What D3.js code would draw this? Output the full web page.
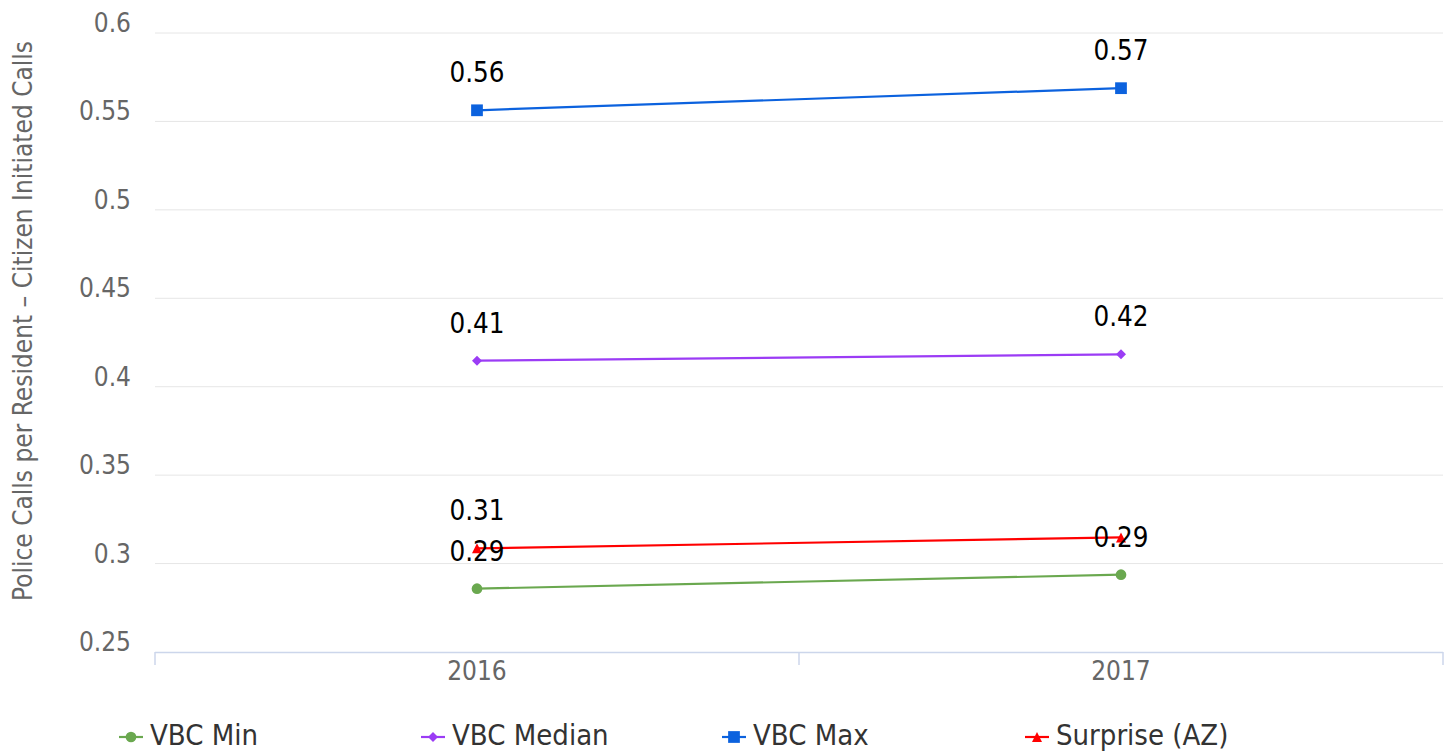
<!DOCTYPE html>
<html>
<head>
<meta charset="utf-8">
<script src="https://cdn.jsdelivr.net/npm/d3@7"></script>
<style>
  html, body { margin: 0; padding: 0; background: #fff; }
  svg { display: block; }
  text { font-family: "DejaVu Sans Condensed", "DejaVu Sans", Verdana, sans-serif; }
</style>
</head>
<body>
<svg id="chart" width="1454" height="752"></svg>
<script>
// Years on the x axis
const years = ["2016", "2017"];

// Series values (calls per resident)
const vbcMin = [0.2858, 0.2937];
const vbcMedian = [0.4147, 0.4183];
const vbcMax = [0.5563, 0.5688];
const surprise = [0.3086, 0.3148];

// Which data labels are shown (overlapping ones are hidden)
const showMin = [true, true];
const showMedian = [true, true];
const showMax = [true, true];
const showSurprise = [true, false];

const yTicks = [0.25, 0.3, 0.35, 0.4, 0.45, 0.5, 0.55, 0.6];
const yTitle = "Police Calls per Resident – Citizen Initiated Calls";

const series = [
  { name: "VBC Min", values: vbcMin, show: showMin, color: "#6aa84f", symbol: "circle" },
  { name: "VBC Median", values: vbcMedian, show: showMedian, color: "#9b3cf5", symbol: "diamond" },
  { name: "VBC Max", values: vbcMax, show: showMax, color: "#0c62de", symbol: "square" },
  { name: "Surprise (AZ)", values: surprise, show: showSurprise, color: "#ff0000", symbol: "triangle" }
];

const svg = d3.select("#chart");
const plotLeft = 155, plotRight = 1443, plotTop = 33, plotBottom = 652;

const x = d3.scaleBand().domain(years).range([plotLeft, plotRight]);
const y = d3.scaleLinear().domain([0.25, 0.6]).range([plotBottom, plotTop]);

// Horizontal grid lines
svg.append("g")
  .selectAll("line")
  .data(yTicks.filter(t => t > 0.25))
  .join("line")
  .attr("x1", plotLeft).attr("x2", plotRight)
  .attr("y1", d => y(d)).attr("y2", d => y(d))
  .attr("stroke", "#e6e6e6").attr("stroke-width", 1);

// Y axis labels, sitting just above their grid lines
const yAxis = svg.append("g")
  .attr("transform", `translate(${plotLeft - 24},0)`)
  .call(d3.axisLeft(y).tickValues(yTicks).tickSize(0).tickPadding(0).tickFormat(d3.format("")));
yAxis.select(".domain").remove();
yAxis.selectAll("text")
  .attr("fill", "#666").attr("font-size", 26)
  .attr("font-family", "\"DejaVu Sans Condensed\", \"DejaVu Sans\", sans-serif")
  .attr("dy", "-0.06em");

// Y axis title
svg.append("text")
  .attr("transform", "translate(32,321) rotate(-90)")
  .attr("text-anchor", "middle")
  .attr("fill", "#666").attr("font-size", 26)
  .text(yTitle);

// X axis with ticks at category boundaries
const xAxisG = svg.append("g").attr("transform", `translate(0,${plotBottom})`);
xAxisG.append("line")
  .attr("x1", plotLeft).attr("x2", plotRight).attr("y1", 0.5).attr("y2", 0.5)
  .attr("stroke", "#ccd6eb").attr("stroke-width", 1.5);
const boundaries = [plotLeft].concat(years.map(d => x(d) + x.bandwidth()));
xAxisG.selectAll("line.tick")
  .data(boundaries)
  .join("line")
  .attr("class", "tick")
  .attr("x1", d => d).attr("x2", d => d)
  .attr("y1", 0).attr("y2", 13)
  .attr("stroke", "#ccd6eb").attr("stroke-width", 1.5);
xAxisG.selectAll("text")
  .data(years)
  .join("text")
  .attr("x", d => x(d) + x.bandwidth() / 2)
  .attr("y", 28)
  .attr("text-anchor", "middle")
  .attr("fill", "#666").attr("font-size", 26)
  .text(d => d);

const cx = d => x(d) + x.bandwidth() / 2;

// Square-shaped diamond and isosceles triangle marker shapes
const diamondSym = {
  draw(ctx, size) {
    const h = Math.sqrt(size / 2);
    ctx.moveTo(0, -h); ctx.lineTo(h, 0); ctx.lineTo(0, h); ctx.lineTo(-h, 0); ctx.closePath();
  }
};
const triangleSym = {
  draw(ctx, size) {
    const h = Math.sqrt(size / 2);
    ctx.moveTo(0, -h); ctx.lineTo(h, h); ctx.lineTo(-h, h); ctx.closePath();
  }
};

const symbolType = {
  circle: d3.symbolCircle,
  diamond: diamondSym,
  square: d3.symbolSquare,
  triangle: triangleSym
};
const symbolSize = { circle: 90, diamond: 50, square: 138, triangle: 50 };

const line = d3.line().x((d, i) => cx(years[i])).y(d => y(d));

// Lines and markers
series.forEach(s => {
  const g = svg.append("g");
  g.append("path")
    .datum(s.values)
    .attr("d", line)
    .attr("fill", "none")
    .attr("stroke", s.color)
    .attr("stroke-width", 2.2);
  g.selectAll("path.marker")
    .data(s.values)
    .join("path")
    .attr("class", "marker")
    .attr("transform", (d, i) => `translate(${cx(years[i])},${y(d)})`)
    .attr("d", d3.symbol().type(symbolType[s.symbol]).size(symbolSize[s.symbol]))
    .attr("fill", s.color);
});

// Data labels
series.forEach(s => {
  svg.append("g").selectAll("text")
    .data(s.values.map((v, i) => ({ v, i })).filter(d => s.show[d.i]))
    .join("text")
    .attr("x", d => cx(years[d.i]))
    .attr("y", d => y(d.v) - 28)
    .attr("text-anchor", "middle")
    .attr("fill", "#000").attr("font-size", 27.5)
    .text(d => d3.format(".2f")(d.v));
});

// Legend
const legendX = [119, 421, 722, 1025];
const legendY = 737;
const legend = svg.append("g");
series.forEach((s, i) => {
  const g = legend.append("g").attr("transform", `translate(${legendX[i]},${legendY})`);
  g.append("line").attr("x1", 0).attr("x2", 24).attr("y1", 0).attr("y2", 0)
    .attr("stroke", s.color).attr("stroke-width", 2.2);
  g.append("path")
    .attr("transform", "translate(12,0)")
    .attr("d", d3.symbol().type(symbolType[s.symbol]).size(symbolSize[s.symbol]))
    .attr("fill", s.color);
  g.append("text")
    .attr("x", 31).attr("y", 7.5)
    .attr("fill", "#333").attr("font-size", 29)
    .text(s.name);
});
</script>
</body>
</html>
